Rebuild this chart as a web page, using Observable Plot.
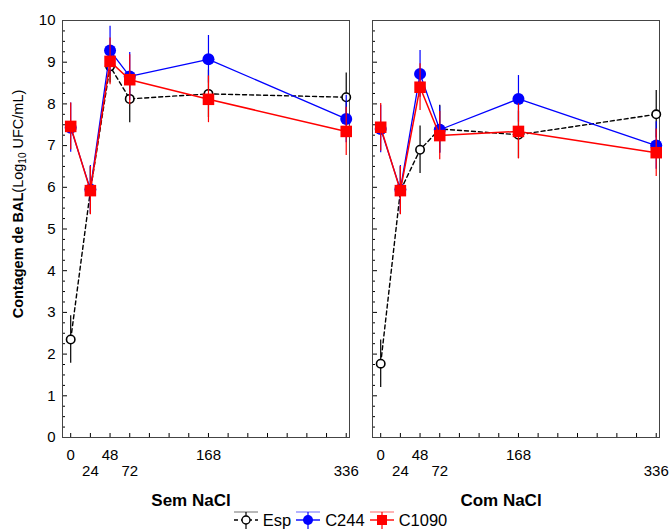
<!DOCTYPE html>
<html><head><meta charset="utf-8">
<script src="https://cdn.jsdelivr.net/npm/d3@7"></script>
<script src="https://cdn.jsdelivr.net/npm/@observablehq/plot@0.6"></script>
<style>
body{margin:0;background:#fff;font-family:"Liberation Sans",Arial,sans-serif;}
#chart{position:relative;width:670px;height:531px;overflow:hidden;}
#ylab{position:absolute;left:19px;top:204px;transform-origin:0 0;transform:rotate(-90deg) translate(-50%,-50%);white-space:nowrap;font-size:14.5px;color:#000;}
#ylab b{font-weight:bold;}
#legend{position:absolute;top:510px;left:0;width:670px;padding-left:10px;box-sizing:border-box;display:flex;justify-content:center;align-items:center;font-size:16.5px;line-height:18px;height:20px;}
#legend .it{display:flex;align-items:center;margin:0 2px;}
#legend svg{margin-right:3px;}
</style></head><body>
<div id="chart"></div>
<script>
// ---- data ----
const hours = [0, 24, 48, 72, 168, 336];
const conditions = ["Sem NaCl", "Com NaCl"];
const seriesNames = ["Esp", "C244", "C1090"];
const seriesColors = ["#000000", "#0000ff", "#ff0000"];

const espSem   = [2.35, 5.92, 8.90, 8.12, 8.24, 8.16];
const c244Sem  = [7.43, 5.95, 9.28, 8.66, 9.07, 7.64];
const c1090Sem = [7.46, 5.92, 9.02, 8.58, 8.11, 7.34];
const espCom   = [1.77, 5.92, 6.90, 7.40, 7.26, 7.75];
const c244Com  = [7.40, 5.95, 8.72, 7.38, 8.12, 7.00];
const c1090Com = [7.44, 5.92, 8.40, 7.24, 7.34, 6.83];

const errEspSem   = [0.57, 0.57, 0.40, 0.57, 0.57, 0.58];
const errC244Sem  = [0.59, 0.57, 0.58, 0.57, 0.57, 0.57];
const errC1090Sem = [0.56, 0.58, 0.56, 0.60, 0.56, 0.58];
const errEspCom   = [0.57, 0.57, 0.57, 0.57, 0.57, 0.57];
const errC244Com  = [0.57, 0.57, 0.56, 0.57, 0.56, 0.57];
const errC1090Com = [0.57, 0.58, 0.56, 0.58, 0.66, 0.57];

const xTicksRow1 = [0, 48, 168];
const xTicksRow2 = [24, 72, 336];
const xMinorTicks = [0, 24, 48, 72, 96, 120, 144, 168, 192, 216, 240, 264, 288, 312, 336];
const yMajorTicks = [0, 1, 2, 3, 4, 5, 6, 7, 8, 9, 10];

// ---- tidy table ----
const table = [];
function add(cond, name, vals, errs) {
  vals.forEach((v, i) => table.push({cond, series: name, hour: hours[i], value: v, err: errs[i]}));
}
add(conditions[0], "Esp", espSem, errEspSem);
add(conditions[0], "C244", c244Sem, errC244Sem);
add(conditions[0], "C1090", c1090Sem, errC1090Sem);
add(conditions[1], "Esp", espCom, errEspCom);
add(conditions[1], "C244", c244Com, errC244Com);
add(conditions[1], "C1090", c1090Com, errC1090Com);

const yMinorTicks = d3.range(0, 10.001, 0.25).filter(t => Math.abs(t - Math.round(t)) > 1e-6);

function seriesMarks(name) {
  const d = table.filter(r => r.series === name);
  const c = seriesColors[seriesNames.indexOf(name)];
  const out = [
    Plot.ruleX(d, {x: "hour", y1: r => r.value - r.err, y2: r => r.value + r.err, fx: "cond", stroke: c, strokeWidth: 1.2}),
  ];
  if (name === "Esp") {
    out.push(Plot.line(d, {x: "hour", y: "value", fx: "cond", stroke: c, strokeWidth: 1.4, strokeDasharray: "4,3"}));
    out.push(Plot.dot(d, {x: "hour", y: "value", fx: "cond", r: 4.2, fill: "#fff", stroke: c, strokeWidth: 1.6}));
  } else if (name === "C244") {
    out.push(Plot.line(d, {x: "hour", y: "value", fx: "cond", stroke: c, strokeWidth: 1.3}));
    out.push(Plot.dot(d, {x: "hour", y: "value", fx: "cond", r: 6, fill: c, stroke: "none"}));
  } else {
    out.push(Plot.line(d, {x: "hour", y: "value", fx: "cond", stroke: c, strokeWidth: 1.5}));
    out.push(Plot.dot(d, {x: "hour", y: "value", fx: "cond", r: 6.5, symbol: "square", fill: c, stroke: "none"}));
  }
  return out;
}

const chart = Plot.plot({
  width: 670,
  height: 510,
  marginTop: 20,
  marginBottom: 73,
  marginLeft: 62,
  marginRight: 11,
  style: {fontFamily: "'Liberation Sans', Arial, sans-serif", fontSize: "15px", color: "#000", background: "#fff"},
  fx: {domain: conditions, paddingInner: 0.0742, paddingOuter: 0, label: null},
  x: {domain: [-10, 340], label: null},
  y: {domain: [0, 10], label: null},
  marks: [
    Plot.axisY({ticks: yMajorTicks, tickSize: 0, tickPadding: 7, fontSize: 15, label: null}),
    Plot.axisY({ticks: yMajorTicks, tickSize: 5, dx: 5, fill: "none", stroke: "#000", facetAnchor: null, label: null}),
    Plot.axisY({ticks: yMinorTicks, tickSize: 3, dx: 3, fill: "none", stroke: "#000", facetAnchor: null, label: null}),
    Plot.axisX({ticks: xMinorTicks, tickSize: 4, dy: -4, fill: "none", stroke: "#000", label: null}),
    Plot.axisX({ticks: xTicksRow1, tickSize: 0, tickPadding: 12, fontSize: 15, label: null}),
    Plot.axisX({ticks: xTicksRow2, tickSize: 0, tickPadding: 28, fontSize: 15, label: null}),
    Plot.axisFx({anchor: "bottom", tickSize: 0, tickPadding: 56, fontSize: 17, fontWeight: "bold", dx: -15, label: null}),
    Plot.frame({stroke: "#444", strokeWidth: 1}),
    ...seriesMarks("Esp"),
    ...seriesMarks("C244"),
    ...seriesMarks("C1090")
  ]
});

const holder = document.getElementById("chart");
holder.appendChild(chart);

const ylab = document.createElement("div");
ylab.id = "ylab";
ylab.innerHTML = "<b>Contagem de BAL</b>(Log<sub style='font-size:10px'>10</sub> UFC/mL)";
holder.appendChild(ylab);

const legend = document.createElement("div");
legend.id = "legend";
const light = ["#888888", "#8080ff", "#ff8080"];
seriesNames.forEach((name, i) => {
  const c = seriesColors[i];
  const it = document.createElement("div");
  it.className = "it";
  let marker;
  if (name === "Esp") marker = `<circle cx="13" cy="10" r="4" fill="#fff" stroke="${c}" stroke-width="1.4"/>`;
  else if (name === "C244") marker = `<circle cx="13" cy="10" r="5" fill="${c}"/>`;
  else marker = `<rect x="8" y="5" width="10" height="10" fill="${c}"/>`;
  const dash = name === "Esp" ? ` stroke-dasharray="4,3"` : "";
  it.innerHTML = `<svg width="27" height="20" viewBox="0 0 27 20">
    <line x1="1" y1="2" x2="25" y2="2" stroke="${light[i]}" stroke-width="1.2"/>
    <line x1="1" y1="10" x2="25" y2="10" stroke="${c}" stroke-width="1.4"${dash}/>
    <line x1="13" y1="2" x2="13" y2="19" stroke="${c}" stroke-width="1.2"/>
    ${marker}</svg><span>${name}</span>`;
  legend.appendChild(it);
});
holder.appendChild(legend);
</script>
</body></html>
